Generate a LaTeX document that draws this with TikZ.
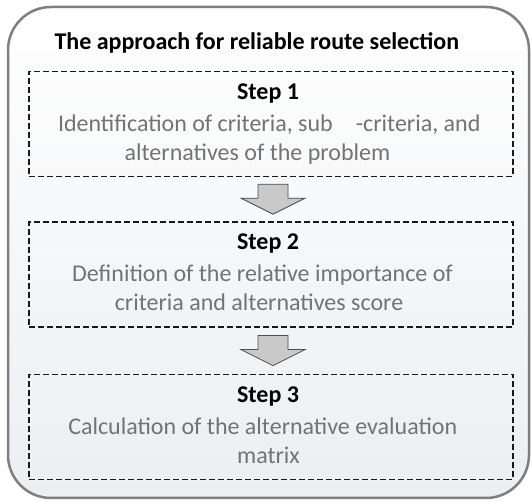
\documentclass[tikz,border=0pt]{standalone}
\usepackage{fontspec}
\setmainfont{Carlito}
\usepackage{xcolor}
\usetikzlibrary{positioning,calc}
\definecolor{FrameGray}{HTML}{7F7F7F}
\definecolor{BodyGray}{HTML}{737373}
\definecolor{ArrowFill}{HTML}{C9C9C9}
\definecolor{ArrowLine}{HTML}{4D4D4D}
\definecolor{PaleBack}{HTML}{ECEEF1}
% shift one centred line sideways without changing its width
\newcommand\nudge[2]{\hspace*{#1}#2\hspace*{-#1}}

\begin{document}
\begin{tikzpicture}[x=1pt,y=-1pt,
  frame/.style={draw=FrameGray,line width=2.5pt,rounded corners=43pt,top color=white,bottom color=PaleBack},
  stepbox/.style={draw=black!90,line width=1.4pt,dash pattern=on 6pt off 3pt,minimum width=484pt,minimum height=105pt,inner sep=0pt,align=center,text=BodyGray,font=\fontsize{24}{29}\selectfont},
  blockarr/.style={draw=ArrowLine,fill=ArrowFill,line width=0.8pt,line join=miter}]
\useasboundingbox (0,0) rectangle (531,502);
\draw[frame] (8,7) rectangle (529,498);
\node[anchor=base west,font=\fontsize{24}{29}\selectfont\bfseries] (title) at (51,50) {The approach for reliable route selection};
\node[stepbox] (step1) at (271,124) {\rule{0pt}{17pt}\nudge{-3pt}{\textcolor{black}{\textbf{Step 1}}}\\[3pt]
  \nudge{-3.5pt}{Identification of criteria, sub\hspace{23pt}-criteria, and}\\
  \nudge{-13.5pt}{alternatives of the problem}\rule[-5pt]{0pt}{0pt}};
\node[stepbox,below=44pt of step1] (step2) {\rule{0pt}{17pt}\nudge{-3pt}{\textcolor{black}{\textbf{Step 2}}}\\[3pt]
  \nudge{-17pt}{Definition of the relative importance of}\\
  \nudge{-12pt}{criteria and alternatives score}\rule[-5pt]{0pt}{0pt}};
\node[stepbox,below=46pt of step2] (step3) {\rule{0pt}{17pt}\nudge{-3pt}{\textcolor{black}{\textbf{Step 3}}}\\[3pt]
  \nudge{-16.5pt}{Calculation of the alternative evaluation}\\
  \nudge{-2.5pt}{matrix}\rule[-5pt]{0pt}{0pt}};
% block arrows between the steps
\foreach \a/\b in {step1/step2,step2/step3}{
  \coordinate (m) at ($(\a.south)!0.5!(\b.north)+(2,0)$);
  \draw[blockarr,shift={(m)}] (-15,-15) -- (15,-15) -- (15,-1) -- (32,-1) -- (0,15) -- (-32,-1) -- (-15,-1) -- cycle;
}
\end{tikzpicture}
\end{document}
